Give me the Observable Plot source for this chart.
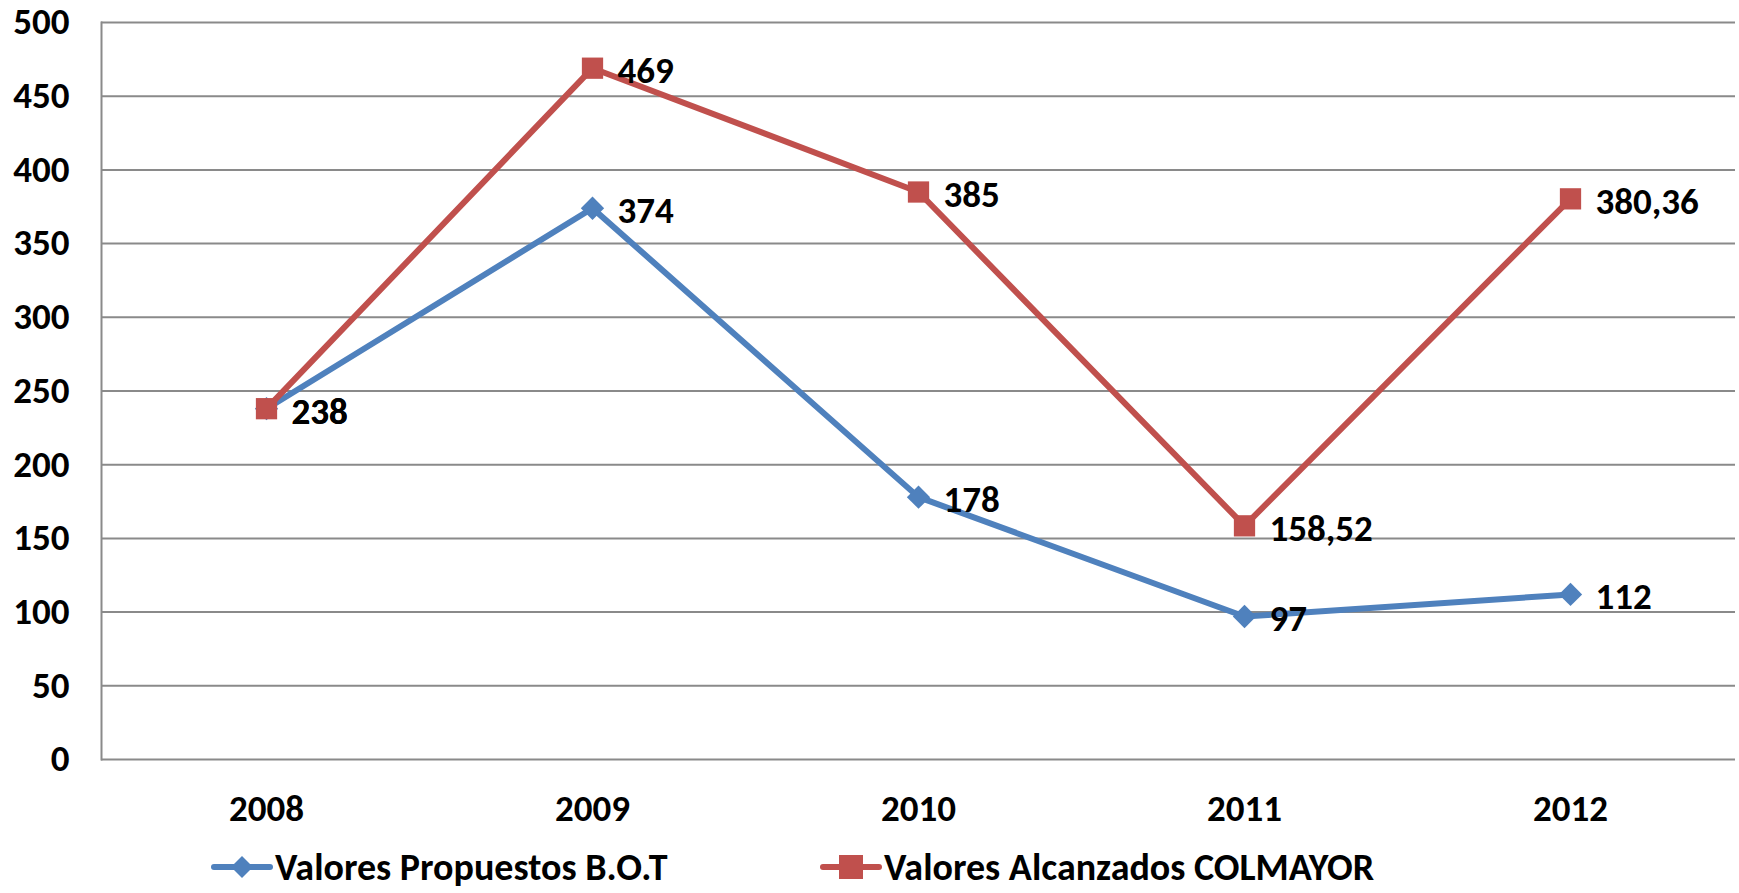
<!DOCTYPE html>
<html><head><meta charset="utf-8">
<script src="https://cdn.jsdelivr.net/npm/d3@7"></script>
<script src="https://cdn.jsdelivr.net/npm/@observablehq/plot@0.6"></script>
<style>
body{margin:0;background:#fff;}
#wrap{position:relative;width:1739px;height:893px;font-family:Carlito,Lato,sans-serif;font-weight:bold;color:#000;}
#legend{position:relative;height:53px;}
.item{position:absolute;top:0;height:53px;display:flex;align-items:center;font-size:38px;white-space:nowrap;}
.item svg{margin-right:2px;}
</style></head><body>
<div id="wrap"><div id="chart"></div><div id="legend"></div></div>
<script>
const years = ["2008","2009","2010","2011","2012"];
const propuestos = [238, 374, 178, 97, 112];
const alcanzados = [238, 469, 385, 158.52, 380.36];
const yTicks = [0, 50, 100, 150, 200, 250, 300, 350, 400, 450, 500];
const seriesNames = ["Valores Propuestos B.O.T", "Valores Alcanzados COLMAYOR"];
const seriesColors = ["#4f81bd", "#c0504d"];

const fmt = v => String(v).replace(".", ",");
const rowsA = years.map((y, i) => ({year: y, value: propuestos[i], series: seriesNames[0]}));
const rowsB = years.map((y, i) => ({year: y, value: alcanzados[i], series: seriesNames[1]}));
const rows = rowsA.concat(rowsB);

const W = 1739, H = 840;
const fontFam = 'Carlito,Lato,sans-serif';

const chart = Plot.plot({
  width: W, height: H,
  marginLeft: 101, marginRight: 4, marginTop: 22, marginBottom: H - 759,
  style: {fontFamily: fontFam, background: "#fff", overflow: "visible"},
  x: {type: "point", domain: years, padding: 0.5},
  y: {domain: [0, 500]},
  color: {domain: seriesNames, range: seriesColors},
  marks: [
    Plot.gridY(yTicks, {stroke: "#8a8a8a", strokeOpacity: 1, strokeWidth: 2}),
    Plot.frame({anchor: "left", stroke: "#8a8a8a", strokeWidth: 2}),
    Plot.axisY(yTicks, {tickSize: 0, tickPadding: 32, fontSize: 37, fontWeight: "bold", fill: "#000", label: null}),
    Plot.axisX({tickSize: 0, tickPadding: 35, fontSize: 37, fontWeight: "bold", fill: "#000", label: null}),
    Plot.line(rows, {x: "year", y: "value", z: "series", stroke: "series", strokeWidth: 6, strokeLinejoin: "round"}),
    Plot.dot(rowsA, {x: "year", y: "value", symbol: "diamond2", r: 10.5, fill: seriesColors[0], stroke: "none"}),
    Plot.dot(rowsB, {x: "year", y: "value", symbol: "square", r: 12, fill: seriesColors[1], stroke: "none"}),
    Plot.text(rows, {x: "year", y: "value", text: d => fmt(d.value), dx: 25, dy: 3, textAnchor: "start", fontSize: 37, fontWeight: "bold", fill: "#000"})
  ]
});
document.getElementById("chart").appendChild(chart);

// legend
const legend = document.getElementById("legend");
const legendX = [211, 820];
seriesNames.forEach((name, i) => {
  const it = document.createElement("div");
  it.className = "item";
  it.style.left = legendX[i] + "px";
  const sym = i === 0
    ? `<path d="M31,17 L42,28 L31,39 L20,28 Z" fill="${seriesColors[i]}"/>`
    : `<rect x="19" y="16" width="24" height="24" fill="${seriesColors[i]}"/>`;
  it.innerHTML = `<svg width="62" height="56"><line x1="3" x2="59" y1="28" y2="28" stroke="${seriesColors[i]}" stroke-width="6" stroke-linecap="round"/>${sym}</svg><span>${name}</span>`;
  legend.appendChild(it);
});
</script>
</body></html>
